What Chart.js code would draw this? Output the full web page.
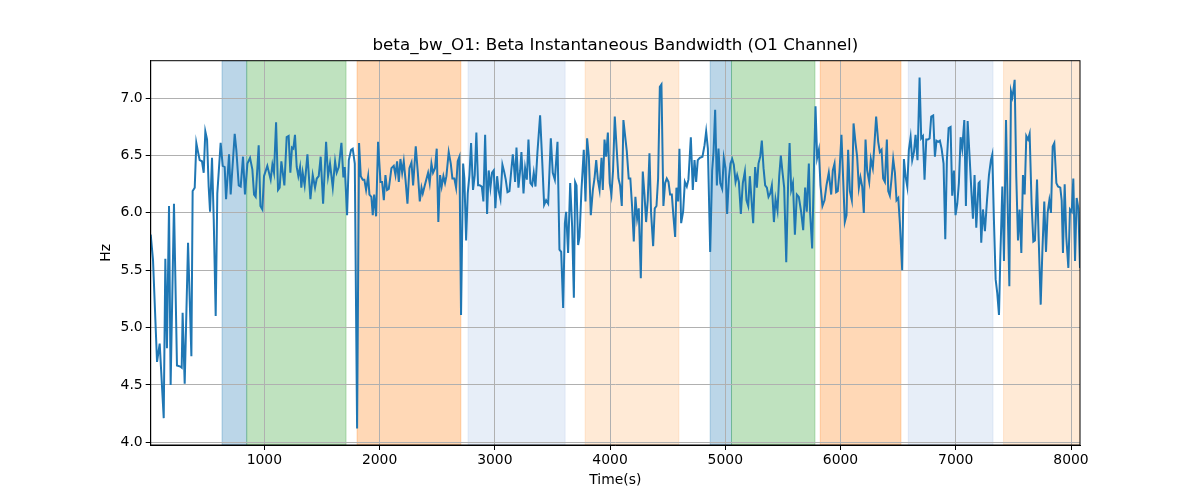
<!DOCTYPE html>
<html>
<head>
<meta charset="utf-8">
<title>beta_bw_O1</title>
<script src="https://cdn.jsdelivr.net/npm/chart.js@4.4.0/dist/chart.umd.min.js"></script>
<style>
  html, body { margin: 0; padding: 0; background: #fff; }
  #wrap { width: 1200px; height: 500px; }
</style>
</head>
<body>
<div id="wrap"><canvas id="chart" width="1200" height="500"></canvas></div>
<script>
// Beta instantaneous bandwidth, O1 channel
const timeSec = [
  14, 34, 69, 92, 127, 141, 155, 173, 187, 216, 242, 271, 283, 291, 309, 338, 367, 378, 396, 410,
  425, 439, 459, 474, 488, 503, 517, 529, 546, 561, 578, 592, 621, 639, 656, 668, 694, 708, 743, 757,
  778, 795, 815, 832, 853, 876, 896, 911, 925, 951, 966, 983, 997, 1026, 1055, 1070, 1084, 1102, 1119, 1133,
  1148, 1174, 1194, 1211, 1226, 1240, 1252, 1266, 1281, 1295, 1310, 1321, 1333, 1350, 1374, 1400, 1420, 1440, 1455, 1472,
  1489, 1510, 1536, 1553, 1570, 1594, 1614, 1628, 1646, 1669, 1686, 1698, 1718, 1733, 1753, 1767, 1785, 1805, 1822, 1837,
  1854, 1868, 1883, 1901, 1912, 1929, 1941, 1953, 1970, 1987, 2008, 2022, 2037, 2051, 2065, 2080, 2103, 2123, 2138, 2152,
  2167, 2181, 2196, 2210, 2225, 2242, 2259, 2277, 2291, 2314, 2332, 2349, 2364, 2375, 2390, 2413, 2421, 2435, 2450, 2464,
  2481, 2496, 2510, 2525, 2539, 2554, 2568, 2580, 2600, 2618, 2632, 2649, 2664, 2678, 2693, 2707, 2725, 2736, 2751, 2765,
  2780, 2794, 2811, 2826, 2840, 2855, 2869, 2887, 2901, 2916, 2933, 2947, 2962, 2976, 2991, 3005, 3020, 3034, 3049, 3066,
  3081, 3095, 3110, 3127, 3141, 3156, 3167, 3176, 3188, 3205, 3220, 3231, 3249, 3263, 3278, 3292, 3309, 3324, 3338, 3353,
  3370, 3393, 3411, 3428, 3445, 3463, 3486, 3503, 3521, 3544, 3561, 3576, 3593, 3608, 3619, 3636, 3654, 3671, 3686, 3697,
  3709, 3723, 3735, 3752, 3772, 3787, 3801, 3816, 3833, 3851, 3865, 3880, 3894, 3909, 3926, 3937, 3952, 3966, 3981, 3997,
  4012, 4026, 4041, 4058, 4073, 4087, 4102, 4116, 4131, 4145, 4162, 4176, 4191, 4206, 4220, 4235, 4249, 4267, 4284, 4298,
  4313, 4327, 4342, 4356, 4374, 4388, 4403, 4417, 4432, 4446, 4463, 4478, 4492, 4507, 4521, 4536, 4550, 4565, 4576, 4591,
  4602, 4617, 4634, 4649, 4666, 4680, 4701, 4718, 4733, 4747, 4761, 4779, 4802, 4820, 4834, 4849, 4869, 4886, 4898, 4912,
  4927, 4941, 4956, 4973, 4987, 5002, 5016, 5031, 5045, 5060, 5074, 5089, 5103, 5118, 5135, 5152, 5170, 5184, 5199, 5213,
  5228, 5242, 5259, 5274, 5288, 5303, 5317, 5332, 5346, 5361, 5375, 5390, 5404, 5422, 5436, 5453, 5468, 5482, 5497, 5511,
  5529, 5546, 5558, 5572, 5587, 5604, 5621, 5638, 5658, 5676, 5693, 5707, 5725, 5736, 5754, 5771, 5783, 5797, 5812, 5826,
  5843, 5861, 5878, 5898, 5919, 5933, 5948, 5962, 5976, 5991, 6008, 6023, 6037, 6052, 6066, 6081, 6098, 6113, 6130, 6144,
  6159, 6173, 6188, 6202, 6217, 6231, 6249, 6263, 6280, 6295, 6309, 6327, 6341, 6356, 6370, 6385, 6402, 6414, 6428, 6443,
  6457, 6472, 6486, 6501, 6515, 6535, 6550, 6564, 6579, 6593, 6608, 6622, 6637, 6651, 6668, 6686, 6700, 6715, 6729, 6744,
  6758, 6773, 6787, 6804, 6819, 6833, 6848, 6862, 6877, 6894, 6909, 6923, 6938, 6955, 6969, 6984, 6998, 7013, 7027, 7042,
  7056, 7074, 7088, 7103, 7120, 7137, 7149, 7163, 7178, 7198, 7207, 7221, 7236, 7253, 7271, 7288, 7305, 7317, 7331, 7346,
  7360, 7375, 7386, 7404, 7418, 7436, 7450, 7465, 7479, 7491, 7499, 7511, 7525, 7540, 7554, 7569, 7583, 7598, 7612, 7627,
  7641, 7658, 7673, 7687, 7705, 7719, 7737, 7751, 7768, 7783, 7797, 7812, 7826, 7841, 7855, 7873, 7887, 7907, 7919, 7930,
  7945, 7959, 7977, 7991, 8006, 8020, 8035, 8049, 8064, 8078
];
const bandwidthHz = [
  5.81, 5.59, 4.70, 4.86, 4.21, 5.60, 4.82, 6.06, 4.50, 6.08, 4.67, 4.66, 4.65, 5.13, 4.51, 5.74, 4.75, 6.19, 6.22, 6.61,
  6.53, 6.46, 6.45, 6.35, 6.71, 6.64, 6.23, 6.01, 6.48, 5.94, 5.10, 6.17, 6.61, 6.41, 6.40, 6.12, 6.51, 6.16, 6.69, 6.55,
  6.24, 6.23, 6.49, 6.16, 6.43, 6.48, 6.38, 6.16, 6.14, 6.59, 6.06, 6.03, 6.32, 6.41, 6.29, 6.42, 6.35, 6.79, 6.20, 6.22,
  6.45, 6.24, 6.66, 6.67, 6.35, 6.57, 6.56, 6.68, 6.40, 6.32, 6.40, 6.22, 6.35, 6.24, 6.51, 6.12, 6.33, 6.22, 6.30, 6.32,
  6.49, 6.08, 6.62, 6.32, 6.43, 6.22, 6.45, 6.35, 6.40, 6.61, 6.31, 6.40, 5.98, 6.46, 6.55, 6.56, 6.43, 4.12, 6.61, 6.32,
  6.29, 6.29, 6.20, 6.32, 6.16, 6.14, 5.98, 6.16, 5.97, 6.62, 6.27, 6.27, 6.11, 6.33, 6.20, 6.21, 6.39, 6.41, 6.33, 6.45,
  6.27, 6.47, 6.35, 6.45, 6.29, 6.08, 6.39, 6.44, 6.24, 6.58, 6.35, 6.10, 6.22, 6.17, 6.23, 6.32, 6.35, 6.26, 6.43, 6.35,
  6.39, 6.56, 5.92, 6.33, 6.23, 6.32, 6.26, 6.32, 6.53, 6.43, 6.30, 6.30, 6.22, 6.45, 6.49, 5.11, 6.43, 6.30, 5.76, 6.17,
  6.33, 6.61, 6.20, 6.33, 6.70, 6.24, 6.24, 6.23, 6.10, 6.68, 5.99, 6.37, 6.22, 6.35, 6.37, 6.04, 6.32, 6.19, 6.12, 6.42,
  6.36, 6.29, 6.18, 6.19, 6.35, 6.51, 6.40, 6.27, 6.57, 6.22, 6.37, 6.53, 6.17, 6.39, 6.29, 6.64, 6.26, 6.24, 6.35, 6.23,
  6.53, 6.85, 6.46, 6.07, 6.11, 6.08, 6.65, 6.35, 6.29, 6.62, 5.68, 5.66, 5.17, 5.91, 6.01, 5.65, 6.26, 5.88, 5.26, 6.27,
  6.24, 5.72, 5.79, 6.20, 6.55, 6.10, 6.65, 6.49, 5.98, 6.20, 6.30, 6.46, 6.29, 6.20, 6.48, 6.20, 6.64, 6.49, 6.70, 6.26,
  6.16, 6.37, 6.84, 6.55, 6.30, 6.24, 6.06, 6.81, 6.67, 6.54, 6.30, 6.30, 6.06, 5.75, 6.14, 5.95, 6.04, 5.43, 6.36, 6.17,
  5.92, 6.11, 6.52, 6.00, 5.71, 6.04, 6.06, 6.30, 7.10, 7.12, 6.06, 6.26, 6.30, 6.27, 6.16, 6.16, 5.97, 5.79, 6.22, 6.10,
  6.56, 5.91, 6.01, 6.27, 6.23, 6.29, 6.66, 6.20, 6.46, 6.27, 6.46, 6.48, 6.49, 6.59, 6.71, 6.56, 5.66, 6.37, 6.53, 6.90,
  6.24, 6.56, 6.26, 6.21, 6.48, 6.39, 5.99, 6.30, 6.43, 6.47, 6.42, 6.27, 6.33, 6.27, 5.99, 6.26, 6.36, 6.11, 6.06, 6.32,
  6.11, 5.91, 6.40, 6.22, 6.43, 6.49, 6.63, 6.39, 6.24, 6.22, 6.14, 6.17, 6.24, 5.92, 6.12, 6.02, 6.32, 6.50, 6.35, 6.22,
  5.57, 6.29, 6.61, 6.20, 6.26, 5.81, 6.16, 6.14, 6.01, 5.85, 6.22, 6.01, 6.43, 6.00, 5.69, 6.46, 6.93, 6.48, 6.55, 6.24,
  6.06, 6.11, 6.24, 6.35, 6.16, 6.37, 6.43, 6.18, 6.19, 6.36, 6.68, 6.29, 5.92, 5.98, 6.55, 6.19, 6.11, 6.78, 6.61, 6.49,
  6.22, 6.31, 6.23, 6.00, 6.64, 6.37, 6.27, 6.47, 6.39, 6.61, 6.84, 6.62, 6.53, 6.55, 6.30, 6.27, 6.64, 6.19, 6.15, 6.30,
  6.47, 6.35, 6.11, 6.13, 5.91, 5.50, 6.47, 6.32, 6.23, 6.55, 6.66, 6.46, 6.53, 6.68, 6.46, 7.18, 6.65, 6.67, 6.29, 6.64,
  6.64, 6.65, 6.84, 6.85, 6.49, 6.63, 6.62, 6.63, 6.56, 6.43, 5.77, 6.46, 6.74, 6.75, 6.15, 6.37, 5.98, 6.08, 6.26, 6.66,
  6.56, 6.81, 6.06, 6.80, 6.49, 6.16, 5.95, 6.33, 5.87, 6.26, 6.27, 5.74, 6.03, 5.84, 6.11, 6.33, 6.46, 6.51, 5.94, 5.42,
  5.30, 5.11, 5.59, 6.23, 5.58, 6.81, 6.08, 5.36, 7.06, 7.01, 7.06, 7.16, 6.32, 5.76, 6.03, 5.65, 6.33, 6.16, 6.67, 6.64,
  6.69, 6.08, 5.75, 5.76, 6.29, 5.79, 5.20, 5.65, 6.10, 5.66, 6.00, 6.11, 6.00, 6.58, 6.61, 6.26, 6.23, 6.22, 6.11, 5.65,
  6.25, 5.79, 5.52, 6.03, 6.01, 6.30, 5.58, 6.13, 6.04, 5.52
];

const xTicks = [1000, 2000, 3000, 4000, 5000, 6000, 7000, 8000];
const yTicks = [4.0, 4.5, 5.0, 5.5, 6.0, 6.5, 7.0];

// shaded segments (seconds)
const spanStart = [633, 847, 1805, 2768, 3784, 4869, 5054, 5824, 6588, 7415];
const spanEnd   = [847, 1709, 2705, 3610, 4597, 5054, 5778, 6524, 7323, 8078];

const BLUE = 'rgba(31,119,180,0.3)';
const GREEN = 'rgba(44,160,44,0.3)';
const ORANGE = 'rgba(255,127,14,0.3)';
const LIGHT_BLUE = 'rgba(174,199,232,0.3)';
const LIGHT_ORANGE = 'rgba(255,187,120,0.3)';
const spanColor = [BLUE, GREEN, ORANGE, LIGHT_BLUE, LIGHT_ORANGE, BLUE, GREEN, ORANGE, LIGHT_BLUE, LIGHT_ORANGE];

const TITLE = 'beta_bw_O1: Beta Instantaneous Bandwidth (O1 Channel)';
const FONT = 'DejaVu Sans';
const tickFont = { family: FONT, size: 13.9 };

// background spans under the grid, frame + title (centred on the axes) on top
const spanPlugin = {
  id: 'spans',
  beforeDraw(chart) {
    const { ctx, chartArea: a, scales: { x } } = chart;
    ctx.save();
    ctx.beginPath();
    ctx.rect(a.left, a.top, a.width, a.height);
    ctx.clip();
    spanStart.forEach((s, i) => {
      const x0 = x.getPixelForValue(s);
      const x1 = x.getPixelForValue(spanEnd[i]);
      ctx.fillStyle = spanColor[i];
      ctx.fillRect(x0, a.top, x1 - x0, a.height);
      ctx.strokeStyle = spanColor[i];
      ctx.lineWidth = 1;
      ctx.strokeRect(x0, a.top, x1 - x0, a.height);
    });
    ctx.restore();
  },
  afterDraw(chart) {
    const { ctx, chartArea: a } = chart;
    ctx.save();
    ctx.strokeStyle = '#000';
    ctx.lineWidth = 1;
    ctx.strokeRect(a.left, a.top, a.width, a.height);
    ctx.fillStyle = '#000';
    ctx.font = '16.7px "' + FONT + '"';
    ctx.textAlign = 'center';
    ctx.textBaseline = 'middle';
    ctx.fillText(TITLE, (a.left + a.right) / 2, 46);
    ctx.restore();
  }
};

const ctx = document.getElementById('chart').getContext('2d');
new Chart(ctx, {
  type: 'line',
  data: {
    datasets: [{
      data: timeSec.map((t, i) => ({ x: t, y: bandwidthHz[i] })),
      borderColor: '#1f77b4',
      borderWidth: 2,
      pointRadius: 0,
      tension: 0,
      fill: false
    }]
  },
  options: {
    responsive: false,
    animation: false,
    layout: { padding: { left: 98, right: 120, top: 60.7, bottom: 11 } },
    plugins: {
      legend: { display: false },
      tooltip: { enabled: false },
      title: { display: false }
    },
    scales: {
      x: {
        type: 'linear',
        min: 14,
        max: 8078,
        afterBuildTicks: s => { s.ticks = xTicks.map(v => ({ value: v })); },
        afterFit: s => { s.height = 44; },
        ticks: { color: '#000', font: tickFont, padding: 2, maxRotation: 0, callback: v => String(v) },
        grid: { color: '#b0b0b0', lineWidth: 1, tickLength: 5, tickColor: '#000' },
        border: { color: '#000', width: 1 },
        title: { display: true, text: 'Time(s)', color: '#000', font: tickFont, padding: 0 }
      },
      y: {
        type: 'linear',
        min: 3.976,
        max: 7.327,
        afterBuildTicks: s => { s.ticks = yTicks.map(v => ({ value: v })); },
        afterFit: s => { s.width = 52.7; },
        ticks: { color: '#000', font: tickFont, padding: 3, callback: v => v.toFixed(1) },
        grid: { color: '#b0b0b0', lineWidth: 1, tickLength: 5, tickColor: '#000' },
        border: { color: '#000', width: 1 },
        title: { display: true, text: 'Hz', color: '#000', font: tickFont, padding: 0 }
      }
    }
  },
  plugins: [spanPlugin]
});
</script>
</body>
</html>
